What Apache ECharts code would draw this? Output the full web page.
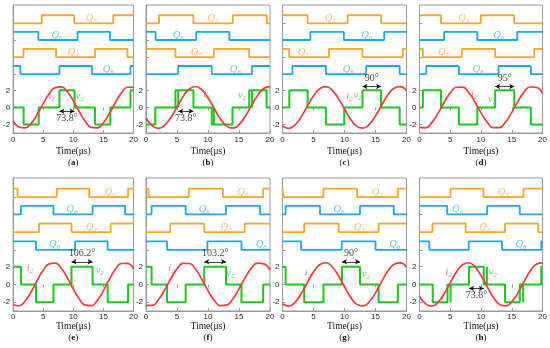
<!DOCTYPE html>
<html><head><meta charset="utf-8">
<script src="https://cdn.jsdelivr.net/npm/echarts@6/dist/echarts.min.js"></script>
<style>html,body{margin:0;padding:0;background:#fff}#c{width:550px;height:348px}</style>
</head><body><div id="c"></div>
<script>
// ---------------- data ----------------
const panels = ['a','b','c','d','e','f','g','h'];
const timeTicks = [0, 5, 10, 15, 20];
const yTickLabels = [-2, 0, 2];

// gate signals: initial state (0 low / 1 high) and switching instants (μs)
const q5Start = [0,0,1,1,1,1,1,0];
const q5Edges = [[4.76,10.16,16.65],[2.1,7.65,14.0,19.5],[4.05,10.5,15.9],[3.5,9.95,15.4],[0.75,7.25,12.65,19.1],[0.4,6.9,12.4,18.9],[0.15,6.6,12.05,18.6],[5.05,10.4,16.9]];
const q6Start = [1,1,0,0,0,0,0,1];
const q6Edges = [[4.2,10.7,16.1],[1.55,8.1,13.45],[4.5,9.9,16.4],[4.0,9.4,15.9],[1.3,6.7,13.2,18.6],[0.9,6.4,12.9,18.4],[0.5,6.05,12.5,17.95],[4.5,11.0,16.3]];
const q7Start = [0,1,1,1,0,0,0,0];
const q7Edges = [[1.73,7.14,13.6,19.0],[4.75,10.95,16.65],[1.1,7.5,12.9,19.4],[0.55,6.9,12.3,18.65],[4.3,9.7,16.2],[3.9,9.4,15.9],[3.5,9.05,15.5],[2.1,7.5,13.9,19.3]];
const q8Start = [1,0,0,0,1,1,1,1];
const q8Edges = [[1.2,7.7,13.1,19.5],[5.2,10.6,17.1],[1.6,7.0,13.5,18.9],[1.1,6.4,12.85,18.1],[3.8,10.3,15.7],[3.4,9.9,15.4],[3.0,9.55,15.0],[1.6,8.0,13.4,19.8]];

// v2: initial level, change instants and level after each change
const v2Start = [0,-2,0,0,2,2,2,0];
const v2Times = [
  [1.75,4.25,7.7,10.2,13.6,16.15,19.5],
  [1.5,4.75,5.2,5.2,7.65,10.6,10.95,10.95,13.95,16.65,17.1,17.1,19.45],
  [1.1,4.05,7.0,9.95,12.9,15.9,18.9],
  [0.55,3.5,6.4,9.4,12.3,15.4,18.1],
  [1.3,3.8,6.7,9.7,13.2,15.7,19.1],
  [0.9,3.4,6.4,9.4,12.9,15.4,18.9],
  [0.5,3.5,6.6,9.6,12.5,15.5,18.6],
  [2.15,4.55,5.05,5.05,8.05,10.45,10.95,10.95,13.9,16.3,16.85,16.85,19.8]
];
const v2Levels = [
  [-2,0,2,0,-2,0,2],
  [0,2,0,2,0,-2,0,-2,0,2,0,2,0],
  [2,0,-2,0,2,0,-2],
  [2,0,-2,0,2,0,-2],
  [0,-2,0,2,0,-2,0],
  [0,-2,0,2,0,-2,0],
  [0,-2,0,2,0,-2,0],
  [-2,0,-2,0,2,0,2,0,-2,0,-2,0,2]
];

const iTimes = [0,1,2,3,4,5,6,7,8,9,10,11,12,13,14,15,16,17,18,19,20];
const i2a = [-1.55,-2.30,-2.41,-1.87,-0.83,0.45,1.60,2.32,2.40,1.83,0.76,-0.51,-1.65,-2.34,-2.39,-1.79,-0.70,0.58,1.70,2.36,2.37];
const i2b = [-1.24,-2.13,-2.45,-2.10,-1.18,0.06,1.29,2.16,2.45,2.07,1.12,-0.13,-1.35,-2.19,-2.44,-2.03,-1.06,0.19,1.40,2.22,2.44];
const i2c = [-2.16,-2.45,-2.07,-1.12,0.13,1.34,2.19,2.44,2.03,1.06,-0.19,-1.40,-2.22,-2.44,-1.99,-1.00,0.26,1.45,2.25,2.43,1.96];
const i2d = [-2.34,-2.39,-1.79,-0.70,0.58,1.70,2.36,2.37,1.74,0.64,-0.64,-1.74,-2.37,-2.36,-1.70,-0.58,0.70,1.79,2.39,2.34,1.65];
const i2e = [-2.30,-2.41,-1.87,-0.83,0.45,1.60,2.32,2.40,1.83,0.76,-0.51,-1.65,-2.34,-2.39,-1.79,-0.70,0.58,1.70,2.36,2.37,1.74];
const i2f = [-2.36,-2.37,-1.74,-0.64,0.64,1.74,2.37,2.36,1.70,0.58,-0.70,-1.79,-2.39,-2.34,-1.65,-0.51,0.76,1.83,2.40,2.32,1.60];
const i2g = [-2.19,-2.44,-2.03,-1.06,0.19,1.40,2.22,2.44,1.99,1.00,-0.26,-1.45,-2.25,-2.43,-1.96,-0.95,0.32,1.50,2.27,2.42,1.92];
const i2h = [-1.35,-2.19,-2.44,-2.03,-1.06,0.19,1.40,2.22,2.44,1.99,1.00,-0.26,-1.45,-2.25,-2.43,-1.96,-0.95,0.32,1.50,2.27,2.42];
const i2All = [i2a,i2b,i2c,i2d,i2e,i2f,i2g,i2h];

// phase annotations
const angleText = ['73.8°','73.8°','90°','95°','106.2°','103.2°','90°','73.8°'];
const arrowFrom = [7.7,5.2,12.9,12.3,9.7,9.4,9.6,8.05];
const arrowTo   = [10.2,7.65,15.9,15.4,13.2,12.9,12.5,10.45];
const arrowAt   = [-0.45,-0.45,2.45,2.45,2.55,2.55,2.55,-0.45];
const angleAt   = [-1.25,-1.25,3.35,3.35,3.45,3.45,3.45,-1.25];

// label anchor times for Q5..Q8, i2, v2
const qLabelT = [[13.0,7.3,10.0,15.8],[10.8,5.2,8.1,14.4],[7.7,13.6,3.35,10.6],[7.2,12.9,3.9,9.5],[16.1,9.8,13.0,6.9],[15.6,9.4,12.9,18.6],[15.3,9.1,12.4,18.1],[13.6,6.2,10.6,16.5]];
const iLabel = [[6.4,1.3],[9.8,1.6],[10.8,1.3],[8.9,1.6],[2.8,1.8],[4.1,1.8],[4.1,1.3],[4.7,1.4]];
const vLabel = [[11.1,1.3],[15.5,1.4],[12.1,1.4],[11.8,1.0],[14.4,1.6],[13.6,1.3],[13.5,1.2],[11.9,1.4]];

// ---------------- layout / style ----------------
const qBase = [9.85, 7.9, 5.9, 3.9];
const qAmp = 0.95;
const ORANGE = '#F7A529', BLUE = '#1EA7E6', RED = '#F23B3B', GREEN = '#1EC61E';
const qColors = [ORANGE, BLUE, ORANGE, BLUE];
const qNames = ['5','6','7','8'];
const gridLeft = [9.5, 146, 282.5, 419.5];
const AX = '#9a9a9a';
const SERIF = 'Liberation Serif', SANS = 'Liberation Sans';

function toggleData(start, edges, base) {
  let s = start; const pts = [[0, base + s * qAmp]];
  edges.forEach(t => { pts.push([t, base + s * qAmp]); s = 1 - s; pts.push([t, base + s * qAmp]); });
  pts.push([20, base + s * qAmp]); return pts;
}
function levelData(start, times, levels) {
  let v = start; const pts = [[0, v]];
  times.forEach((t, k) => { pts.push([t, v]); v = levels[k]; pts.push([t, v]); });
  pts.push([20, v]); return pts;
}
const richBase = (color) => ({
  i: {fontFamily: SERIF, fontStyle: 'italic', fontSize: 10.5, color: color, lineHeight: 13},
  s: {fontFamily: SERIF, fontStyle: 'italic', fontSize: 7, color: color, lineHeight: 8, verticalAlign: 'bottom'}
});

const grids = [], xAxes = [], topAxes = [], yAxes = [], series = [];
const qStarts = [q5Start, q6Start, q7Start, q8Start];
const qEdgesAll = [q5Edges, q6Edges, q7Edges, q8Edges];

panels.forEach((p, i) => {
  const row = i < 4 ? 0 : 1, col = i % 4;
  grids.push({left: gridLeft[col], top: row ? 178 : 5, width: 124, height: row ? 133 : 128,
    show: true, borderColor: AX, borderWidth: 1, backgroundColor: 'transparent'});
  xAxes.push({type: 'value', gridIndex: i, min: 0, max: 20, interval: 5,
    axisLine: {show: true, onZero: false, lineStyle: {color: AX}},
    axisTick: {inside: true, length: 3, lineStyle: {color: AX}},
    axisLabel: {fontSize: 8, color: '#262626', margin: row ? 2 : 3, fontFamily: SANS,
      customValues: timeTicks},
    splitLine: {show: false},
    name: '{t|Time(μs)}\n{p|(}{b|' + p + '}{p|)}', nameLocation: 'middle', nameGap: row ? 10 : 13,
    nameTextStyle: {rich: {
      t: {fontFamily: SERIF, fontSize: 9.5, color: '#111', lineHeight: 11},
      p: {fontFamily: SERIF, fontSize: 9, color: '#111', lineHeight: 11},
      b: {fontFamily: SERIF, fontSize: 9, fontWeight: 'bold', color: '#111', lineHeight: 11}}}
  });
  topAxes.push({type: 'value', gridIndex: i, position: 'top', min: 0, max: 20, interval: 5,
    axisLine: {show: false}, axisTick: {inside: true, length: 3, lineStyle: {color: AX}},
    axisLabel: {show: false}, splitLine: {show: false}});
  yAxes.push({type: 'value', gridIndex: i, min: -3, max: 12, interval: 1,
    axisLine: {show: true, onZero: false, lineStyle: {color: AX}},
    axisTick: {inside: true, length: 3, lineStyle: {color: AX}, customValues: yTickLabels.concat(qBase)},
    axisLabel: {fontSize: 8, color: '#262626', margin: 3, fontFamily: SANS, customValues: yTickLabels,
      formatter: v => (yTickLabels.indexOf(v) >= 0 ? String(v) : '')},
    splitLine: {show: false}});

  // gate traces
  for (let q = 0; q < 4; q++) {
    series.push({type: 'line', xAxisIndex: i, yAxisIndex: i, symbol: 'none', silent: true, animation: false,
      data: toggleData(qStarts[q][i], qEdgesAll[q][i], qBase[q]),
      lineStyle: {color: qColors[q], width: 1.8}, z: 2});
  }
  // v2
  series.push({type: 'line', xAxisIndex: i, yAxisIndex: i, symbol: 'none', silent: true, animation: false,
    data: levelData(v2Start[i], v2Times[i], v2Levels[i]),
    lineStyle: {color: GREEN, width: 2}, z: 3,
    markLine: {silent: true, animation: false, symbol: ['arrow', 'arrow'], symbolSize: [4, 5],
      lineStyle: {color: '#111', width: 0.8, type: 'solid'}, label: {show: false},
      data: [[{coord: [arrowFrom[i], arrowAt[i]]}, {coord: [arrowTo[i], arrowAt[i]]}]]}});
  // i2
  series.push({type: 'line', xAxisIndex: i, yAxisIndex: i, symbol: 'none', silent: true, animation: false,
    smooth: 0.5, data: iTimes.map((t, k) => [t, i2All[i][k]]),
    lineStyle: {color: RED, width: 1.7}, z: 4});
  // text labels
  const items = [];
  for (let q = 0; q < 4; q++) {
    items.push({value: [qLabelT[i][q], qBase[q] + 0.6], name: '{i|Q}{s|' + qNames[q] + '}',
      label: {rich: richBase(q % 2 ? '#3DB3E8' : '#F7A94A')}});
  }
  items.push({value: iLabel[i], name: '{i|i}{s|2}', label: {rich: richBase('#F25555')}});
  items.push({value: vLabel[i], name: '{i|v}{s|2}', label: {rich: richBase('#3CC83C')}});
  items.push({value: [(arrowFrom[i] + arrowTo[i]) / 2, angleAt[i]], name: '{n|' + angleText[i] + '}',
    label: {rich: {n: {fontFamily: SERIF, fontSize: 10, color: '#111'}}}});
  series.push({type: 'scatter', xAxisIndex: i, yAxisIndex: i, symbolSize: 1, silent: true, animation: false,
    itemStyle: {color: 'rgba(0,0,0,0)'}, z: 5, data: items,
    label: {show: true, position: 'inside', formatter: pp => pp.name}});
});

const chart = echarts.init(document.getElementById('c'), null, {renderer: 'canvas', width: 550, height: 348});
chart.setOption({
  backgroundColor: '#fff',
  animation: false,
  grid: grids,
  xAxis: xAxes.concat(topAxes),
  yAxis: yAxes,
  series: series
});
</script></body></html>
